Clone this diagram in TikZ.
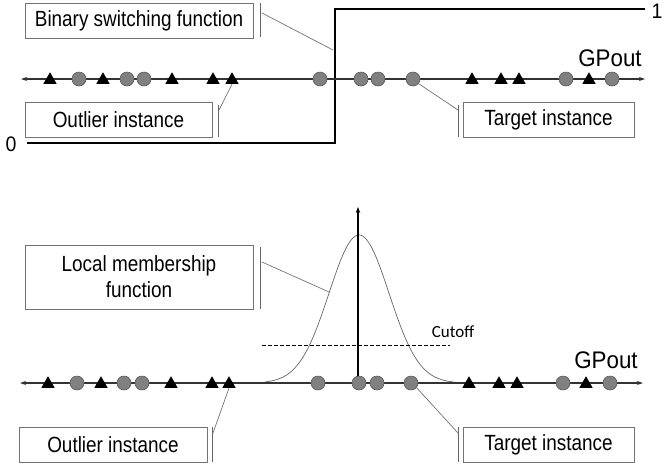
\documentclass[tikz,border=0pt]{standalone}
\usepackage{fontspec}
\setmainfont{Liberation Sans}
\newfontfamily\labelfont[FakeStretch=0.86]{Liberation Sans}
\newfontfamily\gpfont[FakeStretch=0.93]{Liberation Sans}
\newfontfamily\cutfont{Carlito}
\usetikzlibrary{shapes.geometric,arrows.meta}
\begin{document}
\begin{tikzpicture}[x=1pt,y=-1pt,
  axisline/.style={draw=black!80,line width=1.3pt,{Stealth[length=6pt,width=4pt]}-{Stealth[length=6pt,width=4pt]}},
  circ/.style={circle,fill=black!50,draw=black!65,line width=0.6pt,minimum size=14pt,inner sep=0pt},
  tri/.style={regular polygon,regular polygon sides=3,fill=black,inner sep=0pt,minimum size=15.5pt},
  lbox/.style={draw=black!55,line width=0.8pt,inner sep=0pt,align=center,font=\labelfont\fontsize{22}{26}\selectfont},
  callout/.style={draw=black!55,line width=0.7pt},
  tick/.style={draw=black!60,line width=0.8pt},
  stepfn/.style={draw=black,line width=2.4pt},
  bigtxt/.style={font=\gpfont\fontsize{24}{26}\selectfont,inner sep=0pt},
]
\useasboundingbox (0,0) rectangle (664,467);

% ---------------- top panel ----------------
\coordinate (s0) at (27,143);
\coordinate (s1) at (335,143);
\coordinate (s2) at (335,9);
\coordinate (s3) at (645,9);
\draw[stepfn] (s0) -- (s1) -- (s2) -- (s3);
\node[bigtxt,font=\gpfont\fontsize{21}{24}\selectfont] (zero) at (11,144) {0};
\node[bigtxt,font=\gpfont\fontsize{21}{24}\selectfont] (one) at (657,11) {1};

\coordinate (aL) at (21,79);
\coordinate (aR) at (645,79);
\draw[axisline] (aL) -- (aR);
\node[bigtxt] (gp1) at (610,58) {GPout};

\foreach \x [count=\i] in {50,103,172,213,232,472,501,519,589}
  \node[tri] (ta\i) at (\x,80) {};
\foreach \x [count=\i] in {79,127,144,320,361,378,413,566,612}
  \node[circ] (ca\i) at (\x,79) {};

\node[lbox,minimum width=228pt,minimum height=35pt] (bsf) at (139,20.5) {Binary switching function};
\node[lbox,minimum width=187pt,minimum height=35pt] (oi1) at (118.5,119.5) {Outlier instance};
\node[lbox,minimum width=171pt,minimum height=35pt] (ti1) at (548.5,119.5) {Target instance};

\coordinate (k1a) at (260,3);  \coordinate (k1b) at (260,37);
\draw[tick] (k1a) -- (k1b);
\coordinate (c1a) at (262,13); \coordinate (c1b) at (333,50);
\draw[callout] (c1a) -- (c1b);

\coordinate (k2a) at (218,105); \coordinate (k2b) at (218,137);
\draw[tick] (k2a) -- (k2b);
\coordinate (c2a) at (219,110);
\draw[callout] (c2a) -- (ta5.south);

\coordinate (k3a) at (458,105); \coordinate (k3b) at (458,137);
\draw[tick] (k3a) -- (k3b);
\coordinate (c3b) at (458,110);
\draw[callout] (ca7.-40) -- (c3b);

% ---------------- bottom panel ----------------
\coordinate (bL) at (20,383);
\coordinate (bR) at (643,383);
\draw[axisline] (bL) -- (bR);
\node[bigtxt] (gp2) at (606,360) {GPout};

\draw[draw=black!60,line width=0.7pt] plot[domain=265:454,samples=120,smooth]
  ({\x},{383-148*exp(-((\x-359)*(\x-359))/1800)});

\coordinate (cut0) at (262,345);
\coordinate (cut1) at (450,345);
\draw[dashed,line width=1pt,dash pattern=on 4pt off 2pt] (cut0) -- (cut1);
\node[font=\cutfont\fontsize{17}{20}\selectfont,inner sep=0pt] (cutoff) at (453,332) {Cutoff};

\coordinate (v0) at (358,383);
\coordinate (v1) at (358,207);
\draw[black,line width=1.4pt,-{Stealth[length=6pt,width=4.5pt]}] (v0) -- (v1);

\foreach \x [count=\i] in {48,101,171,212,229,469,499,517,586}
  \node[tri] (tb\i) at (\x,384) {};
\foreach \x [count=\i] in {77,124,142,318,359,377,411,563,610}
  \node[circ] (cb\i) at (\x,383) {};

\node[lbox,minimum width=228pt,minimum height=64pt] (lmf) at (139,277) {Local membership\\function};
\node[lbox,minimum width=188pt,minimum height=35pt] (oi2) at (113,444.5) {Outlier instance};
\node[lbox,minimum width=171pt,minimum height=35pt] (ti2) at (548.5,444.5) {Target instance};

\coordinate (k4a) at (260,247); \coordinate (k4b) at (260,309);
\draw[tick] (k4a) -- (k4b);
\coordinate (c4a) at (262,262); \coordinate (c4b) at (329,292);
\draw[callout] (c4a) -- (c4b);

\coordinate (k5a) at (212,427); \coordinate (k5b) at (212,462);
\draw[tick] (k5a) -- (k5b);
\coordinate (c5a) at (213,433);
\draw[callout] (c5a) -- (tb5.south);

\coordinate (k6a) at (458,427); \coordinate (k6b) at (458,462);
\draw[tick] (k6a) -- (k6b);
\coordinate (c6b) at (458,433);
\draw[callout] (cb7.-40) -- (c6b);
\end{tikzpicture}
\end{document}
